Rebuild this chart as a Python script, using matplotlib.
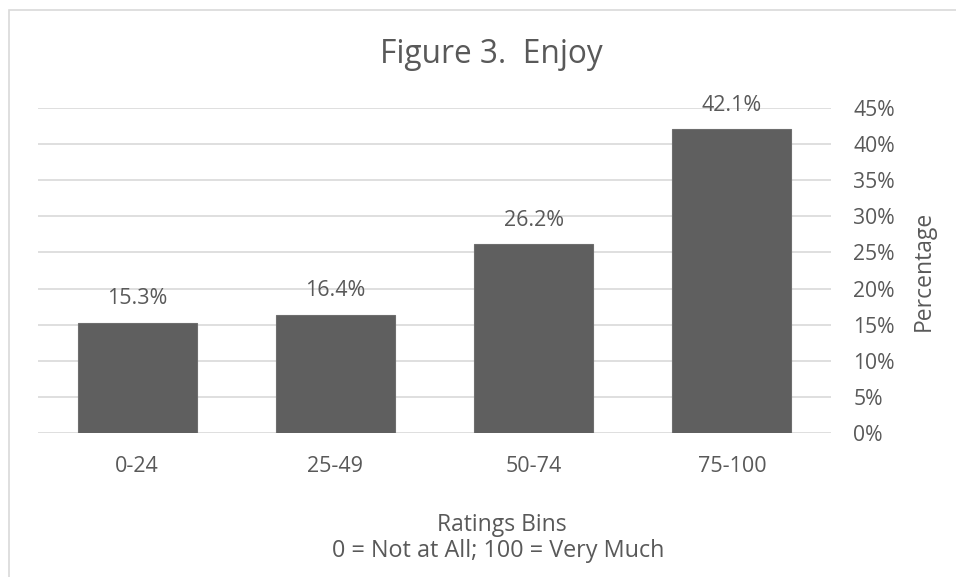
import matplotlib.pyplot as plt
import matplotlib.patches as patches
from matplotlib.ticker import FuncFormatter, MultipleLocator

# ratings bins and share of responses (%)
bins = ['0-24', '25-49', '50-74', '75-100']
share = [15.3, 16.4, 26.2, 42.1]

txt = '#595959'
plt.rcParams['font.family'] = ['Open Sans', 'DejaVu Sans']

fig = plt.figure(figsize=(9.56, 5.77), dpi=100)
W, H = 956, 577
# plot area in pixels: x 38..831, y 108..433
ax = fig.add_axes([38 / W, 1 - 433 / H, (831 - 38) / W, (433 - 108) / H])

x = list(range(len(bins)))
ax.bar(x, share, width=0.6, color='#5f5f5f', edgecolor='#6e6e6e', linewidth=0.8, zorder=3)
for xi, v in zip(x, share):
    ax.annotate('{:.1f}%'.format(v), (xi, v), xytext=(0, 13), textcoords='offset points',
                ha='center', va='baseline', fontsize=15.5, color=txt)

ax.set_xlim(-0.5, len(bins) - 0.5)
ax.set_ylim(0, 45)
ax.yaxis.set_major_locator(MultipleLocator(5))
ax.yaxis.set_major_formatter(FuncFormatter(lambda v, p: '{:.0f}%'.format(v)))
ax.yaxis.tick_right()
ax.grid(axis='y', color='#d9d9d9', linewidth=1.2, zorder=0)
ax.set_axisbelow(True)
for s in ax.spines.values():
    s.set_visible(False)
ax.tick_params(axis='y', length=0, pad=16, labelsize=15.2, labelcolor=txt)
ax.tick_params(axis='x', length=0, pad=16.5, labelsize=15.5, labelcolor=txt)
ax.set_xticks(x)
ax.set_xticklabels(bins)

fig.text(924 / W, 1 - 271 / H, 'Percentage', rotation=90, ha='center', va='center',
         fontsize=16.5, color=txt)
fig.text(491 / W, 1 - 63 / H, 'Figure 3.  Enjoy', ha='center', va='baseline', fontsize=22.8, color=txt)
fig.text(502 / W, 1 - 531 / H, 'Ratings Bins', ha='center', va='baseline', fontsize=16.5, color=txt)
fig.text(498 / W, 1 - 557 / H, '0 = Not at All; 100 = Very Much', ha='center', va='baseline',
         fontsize=16.8, color=txt)

# chart frame
fig.patches.append(patches.Rectangle((8.5 / W, -0.1), 1.2, 1 - 9.5 / H + 0.1, transform=fig.transFigure,
                                     fill=False, edgecolor='#d9d9d9', linewidth=1.2))

fig.savefig('out.png', dpi=100)
